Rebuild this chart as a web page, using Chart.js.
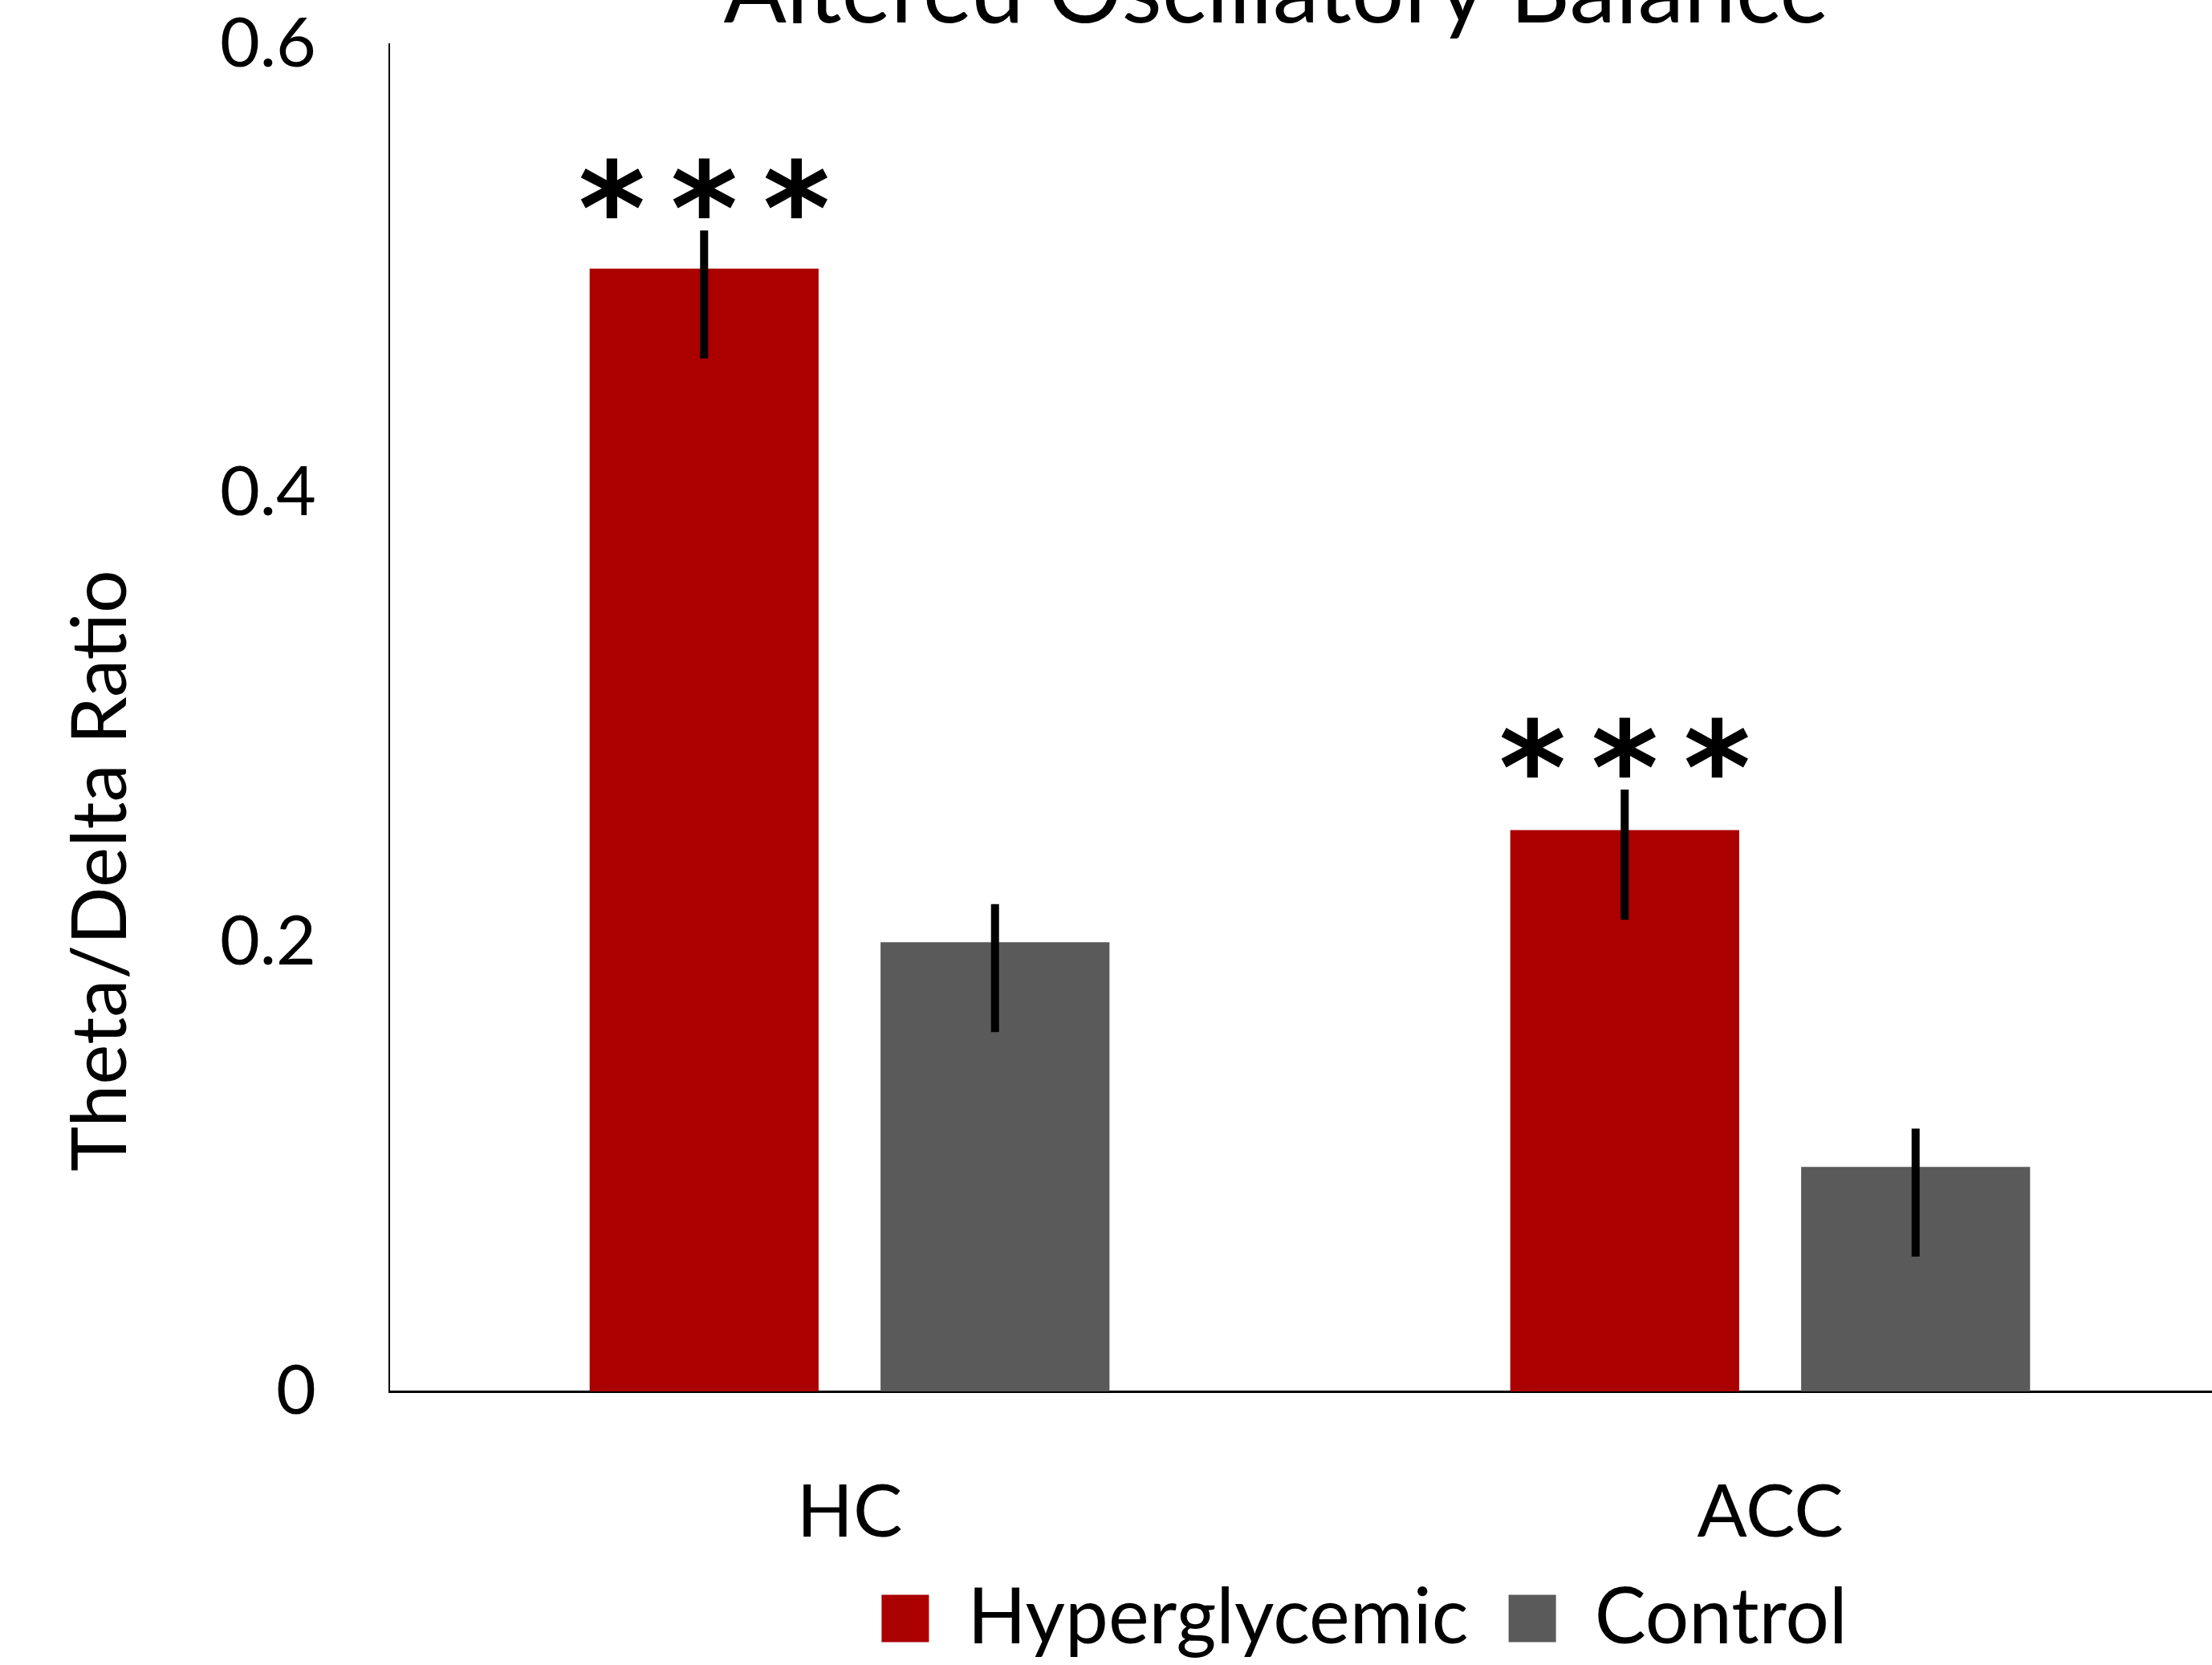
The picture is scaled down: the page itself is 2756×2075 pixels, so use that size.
<!DOCTYPE html>
<html>
<head>
<meta charset="utf-8">
<title>Altered Oscillatory Balance</title>
<script src="https://cdn.jsdelivr.net/npm/chart.js@4.4.1/dist/chart.umd.min.js"></script>
<style>
  html, body { margin: 0; padding: 0; background: #fff; overflow: hidden; }
  #wrap { width: 2779px; height: 2075px; }
</style>
</head>
<body>
<div id="wrap"><canvas id="chart" width="2779" height="2075"></canvas></div>
<script>
const categories = ['HC', 'ACC'];
const seriesNames = ['Hyperglycemic', 'Control'];
const hyperglycemic = [0.50, 0.25];
const control = [0.20, 0.10];

// error bar ends
const hyperHigh = [0.517, 0.268];
const hyperLow = [0.460, 0.210];
const controlHigh = [0.217, 0.117];
const controlLow = [0.160, 0.060];

const stars = ['***', '***'];
const yTicks = [0, 0.2, 0.4, 0.6];

const RED = '#aa0000';
const GREY = '#5a5a5a';
const FONT = 'Lato';

// error bars, significance stars, and the two titles
const extras = {
  id: 'extras',
  afterLayout(chart) {
    // legend sits right of the canvas centre in the original
    const lg = chart.legend;
    const dx = 1700 - (lg.left + lg.right) / 2;
    lg.left += dx;
    lg.right += dx;
  },
  afterDatasetsDraw(chart) {
    const ctx = chart.ctx;
    const y = chart.scales.y;
    ctx.save();
    chart.data.datasets.forEach((ds, i) => {
      const meta = chart.getDatasetMeta(i);
      meta.data.forEach((bar, j) => {
        const top = y.getPixelForValue(ds.errHigh[j]);
        const bot = y.getPixelForValue(ds.errLow[j]);
        ctx.strokeStyle = '#000';
        ctx.lineWidth = 10;
        ctx.lineCap = 'butt';
        ctx.beginPath();
        ctx.moveTo(bar.x, top);
        ctx.lineTo(bar.x, bot);
        ctx.stroke();

        if (ds.stars && ds.stars[j]) {
          ctx.font = 'bold 160px "DejaVu Sans"';
          ctx.fillStyle = '#000';
          ctx.textAlign = 'center';
          ctx.textBaseline = 'alphabetic';
          const m = ctx.measureText('*');
          const cy = top - 53;
          const base = cy + (m.actualBoundingBoxAscent - m.actualBoundingBoxDescent) / 2;
          const n = ds.stars[j].length;
          for (let k = 0; k < n; k++) {
            ctx.fillText('*', bar.x + (k - (n - 1) / 2) * 115, base);
          }
        }
      });
    });
    ctx.restore();
  },
  afterDraw(chart) {
    const ctx = chart.ctx;
    ctx.save();
    ctx.fillStyle = '#000';

    ctx.font = '116px ' + FONT;
    ctx.textAlign = 'center';
    ctx.textBaseline = 'alphabetic';
    ctx.fillText('Altered Oscillatory Balance', 1590, 28);

    ctx.font = '95px ' + FONT;
    const label = 'Theta/Delta Ratio';
    const m = ctx.measureText(label);
    ctx.translate(124, 1085);
    ctx.rotate(-Math.PI / 2);
    ctx.fillText(label, 0, (m.actualBoundingBoxAscent - m.actualBoundingBoxDescent) / 2);
    ctx.restore();
  }
};

new Chart(document.getElementById('chart'), {
  type: 'bar',
  data: {
    labels: categories,
    datasets: [
      {
        label: seriesNames[0],
        data: hyperglycemic,
        backgroundColor: RED,
        errHigh: hyperHigh,
        errLow: hyperLow,
        stars: stars
      },
      {
        label: seriesNames[1],
        data: control,
        backgroundColor: GREY,
        errHigh: controlHigh,
        errLow: controlLow
      }
    ]
  },
  options: {
    responsive: false,
    animation: false,
    events: [],
    categoryPercentage: 0.632,
    barPercentage: 0.787,
    layout: { padding: { top: 55, left: 0, right: 0, bottom: 0 } },
    scales: {
      x: {
        grid: { display: false, drawTicks: false },
        border: { display: true, color: '#000', width: 3 },
        ticks: {
          color: '#000',
          font: { family: FONT, size: 92 },
          padding: 96
        },
        afterFit(scale) { scale.height = 185; }
      },
      y: {
        min: 0,
        max: 0.6,
        grid: { display: false, drawTicks: false },
        border: { display: true, color: '#000', width: 2 },
        afterBuildTicks(scale) {
          scale.ticks = yTicks.map(v => ({ value: v }));
        },
        ticks: {
          color: '#000',
          font: { family: FONT, size: 86 },
          padding: 91,
          callback: v => (v === 0 ? '0' : v.toFixed(1))
        },
        afterFit(scale) {
          scale.width = 485;
          // tick padding is meant for the labels' side gap, not the top
          scale.paddingTop = 0;
          scale.paddingBottom = 0;
        }
      }
    },
    plugins: {
      legend: {
        position: 'bottom',
        labels: {
          color: '#000',
          font: { family: FONT, size: 96 },
          boxWidth: 59,
          boxHeight: 59,
          padding: 50
        }
      },
      title: { display: false },
      tooltip: { enabled: false }
    }
  },
  plugins: [extras]
});
</script>
</body>
</html>
